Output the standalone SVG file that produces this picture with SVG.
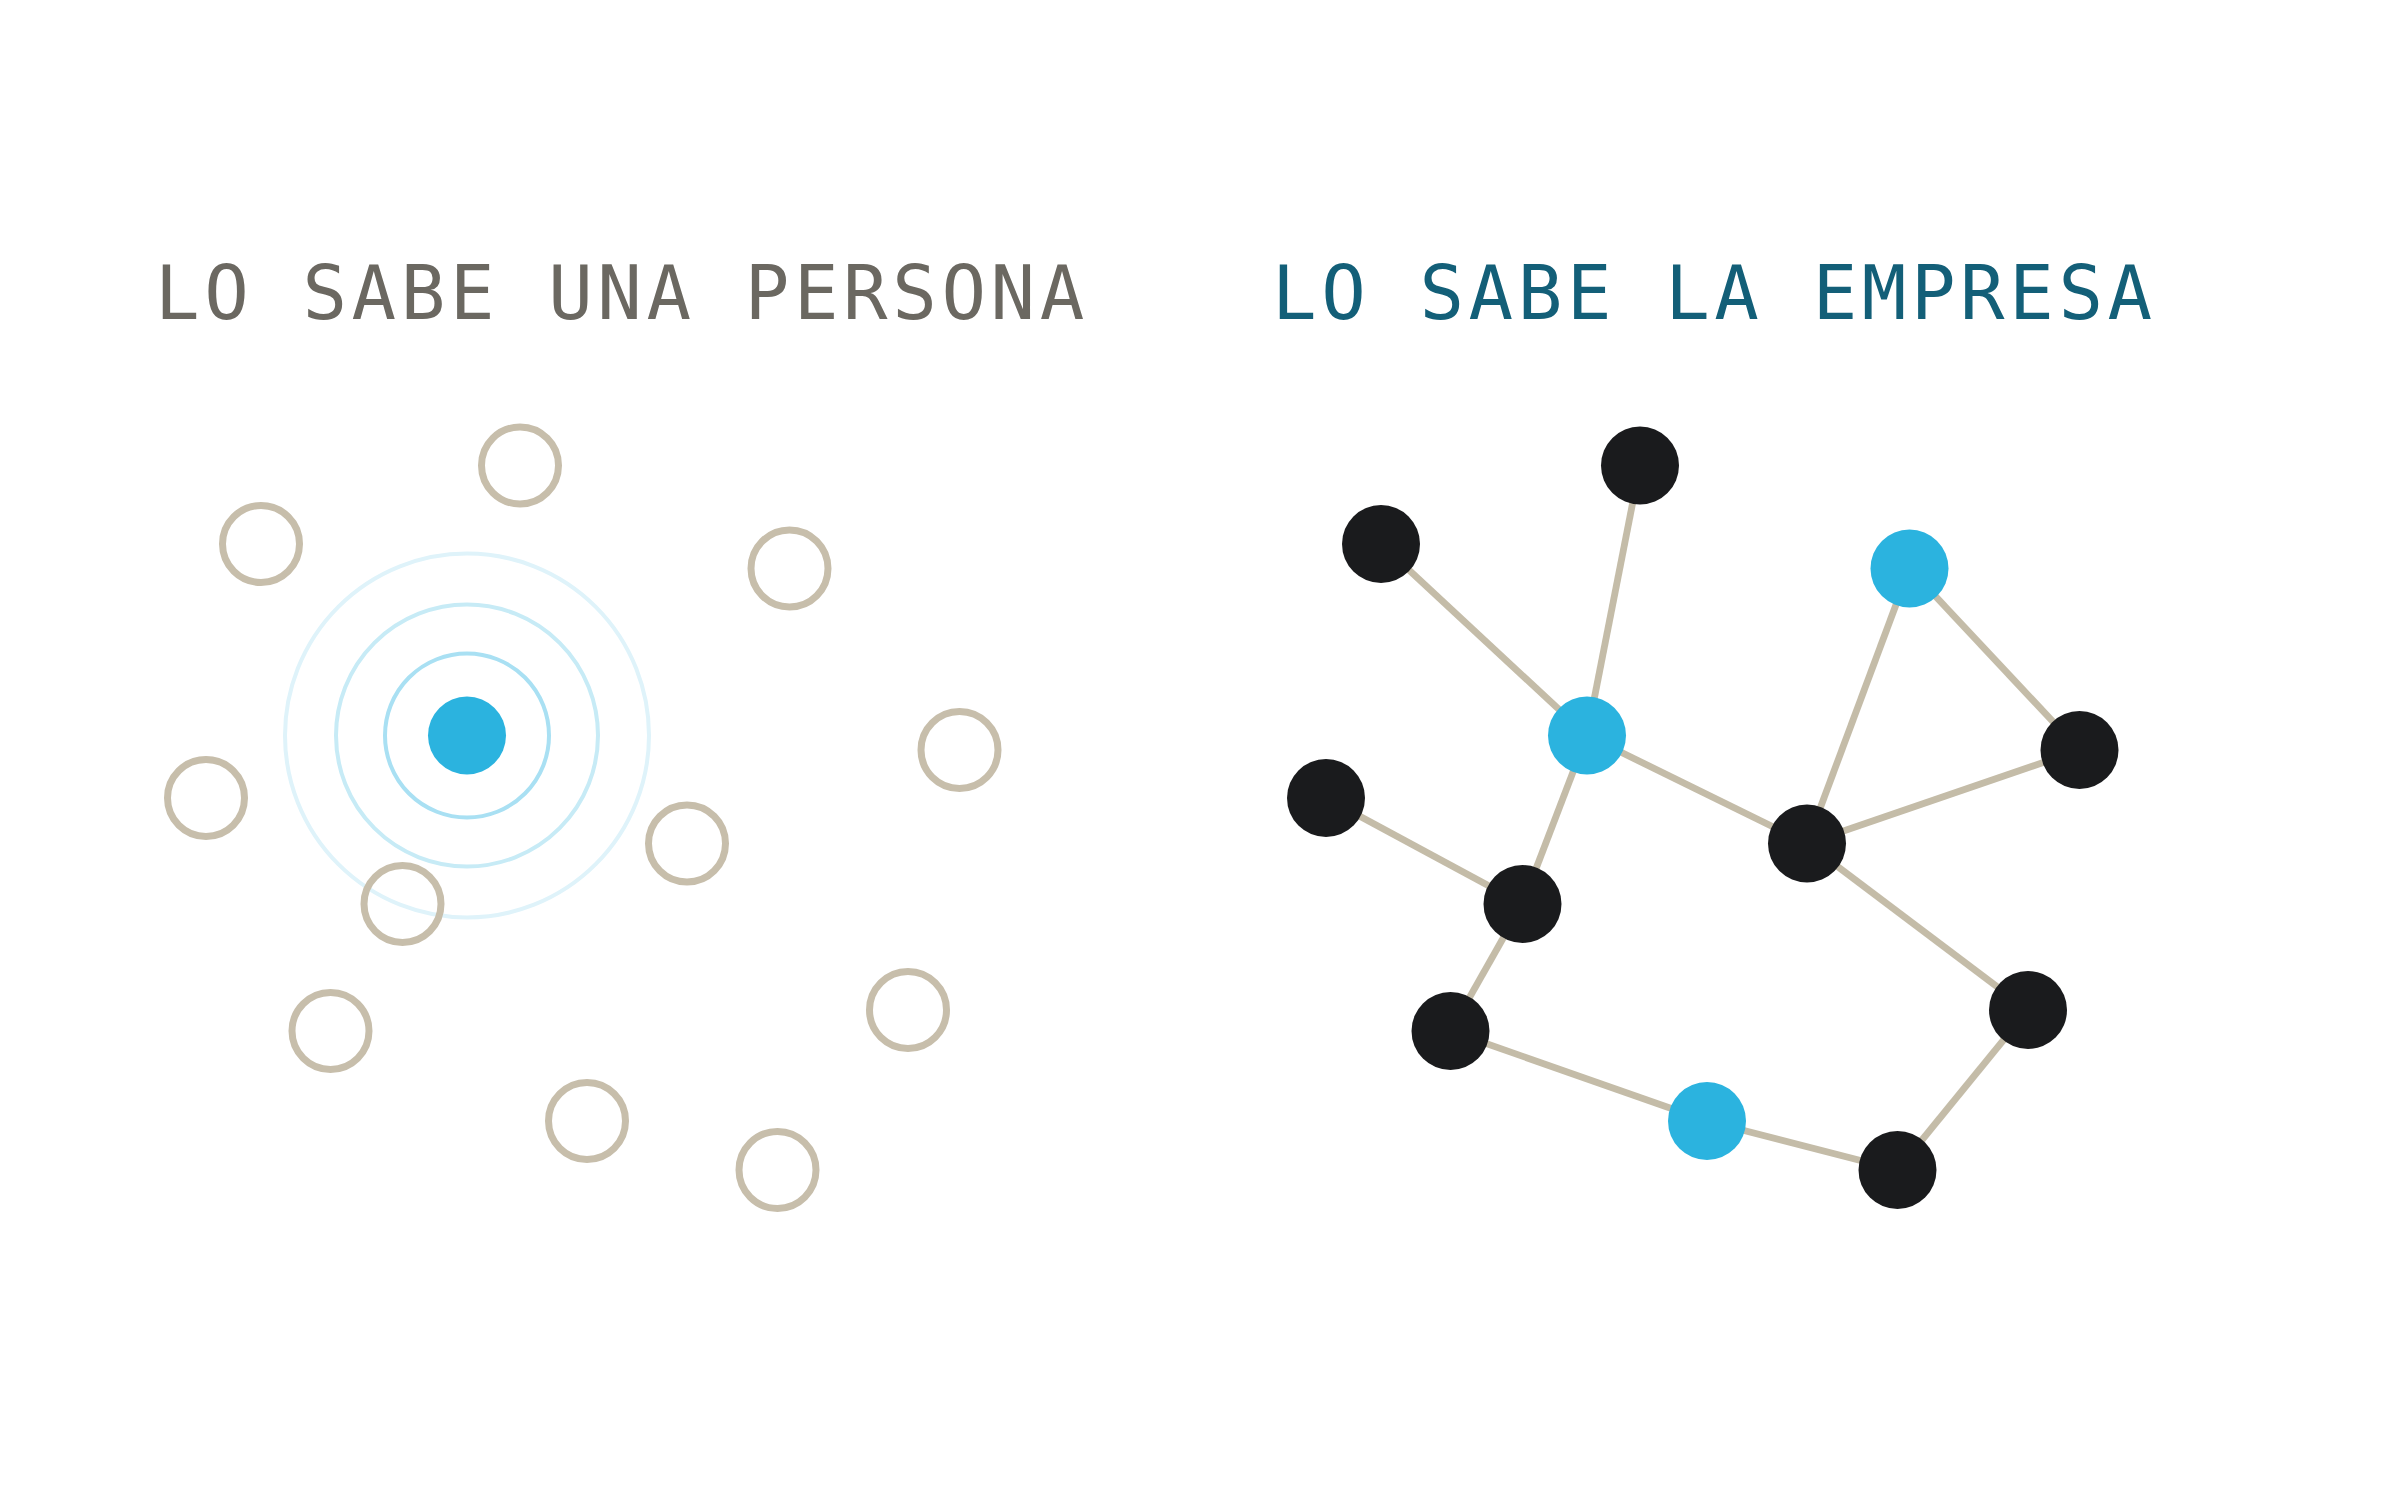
<svg xmlns="http://www.w3.org/2000/svg" width="2400" height="1500" viewBox="0 0 2400 1500">
<style>
.title{font-family:"DejaVu Sans Mono","Liberation Mono",monospace;font-size:74px;letter-spacing:4.6px}
.t1{fill:#6b6861}
.t2{fill:#135f78}
.peer{fill:none;stroke:#c7beab;stroke-width:7}
.ring1{fill:none;stroke:#a9e0f3;stroke-width:4}
.ring2{fill:none;stroke:#c7ebf6;stroke-width:4}
.ring3{fill:none;stroke:#dff3fa;stroke-width:4}
.blue{fill:#2bb3df}
.black{fill:#1a1b1d}
.edge{stroke:#c4bca8;stroke-width:6.8;fill:none}
</style>
<rect width="2400" height="1500" fill="#ffffff"/>
<text class="title t1" x="155" y="319">LO SABE UNA PERSONA</text>
<text class="title t2" x="1272" y="319">LO SABE LA EMPRESA</text>

<g id="left-panel">
<g id="rings">
<circle class="ring3" cx="467" cy="735.5" r="182"/>
<circle class="ring2" cx="467" cy="735.5" r="131"/>
<circle class="ring1" cx="467" cy="735.5" r="82"/>
</g>
<g id="person"><circle class="blue" cx="467" cy="735.5" r="39"/></g>
<g id="p1"><circle class="peer" cx="520" cy="465.5" r="38.5"/></g>
<g id="p2"><circle class="peer" cx="261" cy="544" r="38.5"/></g>
<g id="p3"><circle class="peer" cx="789.5" cy="568.5" r="38.5"/></g>
<g id="p4"><circle class="peer" cx="959.5" cy="750" r="38.5"/></g>
<g id="p5"><circle class="peer" cx="206" cy="798" r="38.5"/></g>
<g id="p6"><circle class="peer" cx="687" cy="843.5" r="38.5"/></g>
<g id="p7"><circle class="peer" cx="402.5" cy="904" r="38.5"/></g>
<g id="p8"><circle class="peer" cx="330.5" cy="1031" r="38.5"/></g>
<g id="p9"><circle class="peer" cx="908" cy="1010" r="38.5"/></g>
<g id="p10"><circle class="peer" cx="587" cy="1121" r="38.5"/></g>
<g id="p11"><circle class="peer" cx="777.5" cy="1170" r="38.5"/></g>
</g>

<g id="connectors">
<line class="edge" x1="1381" y1="544" x2="1587" y2="735.5"/>
<line class="edge" x1="1640" y1="465.5" x2="1587" y2="735.5"/>
<line class="edge" x1="1587" y1="735.5" x2="1807" y2="843.5"/>
<line class="edge" x1="1587" y1="735.5" x2="1522.5" y2="904"/>
<line class="edge" x1="1326" y1="798" x2="1522.5" y2="904"/>
<line class="edge" x1="1522.5" y1="904" x2="1450.5" y2="1031"/>
<line class="edge" x1="1450.5" y1="1031" x2="1707" y2="1121"/>
<line class="edge" x1="1707" y1="1121" x2="1897.5" y2="1170"/>
<line class="edge" x1="1897.5" y1="1170" x2="2028" y2="1010"/>
<line class="edge" x1="2028" y1="1010" x2="1807" y2="843.5"/>
<line class="edge" x1="1807" y1="843.5" x2="2079.5" y2="750"/>
<line class="edge" x1="1807" y1="843.5" x2="1909.5" y2="568.5"/>
<line class="edge" x1="1909.5" y1="568.5" x2="2079.5" y2="750"/>
</g>

<g id="n-hub"><circle class="blue" cx="1587" cy="735.5" r="39"/></g>
<g id="n1"><circle class="black" cx="1640" cy="465.5" r="39"/></g>
<g id="n2"><circle class="black" cx="1381" cy="544" r="39"/></g>
<g id="n3"><circle class="blue" cx="1909.5" cy="568.5" r="39"/></g>
<g id="n4"><circle class="black" cx="2079.5" cy="750" r="39"/></g>
<g id="n5"><circle class="black" cx="1326" cy="798" r="39"/></g>
<g id="n6"><circle class="black" cx="1807" cy="843.5" r="39"/></g>
<g id="n7"><circle class="black" cx="1522.5" cy="904" r="39"/></g>
<g id="n8"><circle class="black" cx="1450.5" cy="1031" r="39"/></g>
<g id="n9"><circle class="black" cx="2028" cy="1010" r="39"/></g>
<g id="n10"><circle class="blue" cx="1707" cy="1121" r="39"/></g>
<g id="n11"><circle class="black" cx="1897.5" cy="1170" r="39"/></g>
</svg>
